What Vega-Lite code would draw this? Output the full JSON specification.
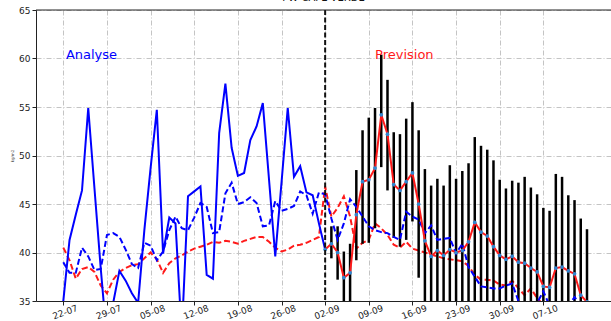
{
  "$schema": "https://vega.github.io/schema/vega-lite/v6.json",
  "autosize": {"type": "none"},
  "width": 575,
  "height": 291,
  "padding": {"left": 36, "top": 10, "right": 0, "bottom": 20},
  "background": "white",
  "title": {"text": "PW CAPE-VERDE", "fontSize": 10, "fontWeight": "normal", "font": "DejaVu Sans", "color": "#111", "offset": 3, "anchor": "middle"},
  "config": {
    "font": "DejaVu Sans",
    "view": {"stroke": null},
    "axis": {
      "labelFont": "DejaVu Sans", "labelFontSize": 9, "labelColor": "#222",
      "domainColor": "#222", "tickColor": "#222", "tickSize": 4, "labelPadding": 2,
      "grid": true, "gridColor": "#c4c4c4", "gridDash": [5, 2, 1, 2], "gridWidth": 1
    }
  },
  "datasets": {
    "analyse": [
      {"date": "2023-07-22", "pw": 35.0}, {"date": "2023-07-23", "pw": 41.3}, {"date": "2023-07-24", "pw": 43.9},
      {"date": "2023-07-25", "pw": 46.4}, {"date": "2023-07-26", "pw": 54.9}, {"date": "2023-07-27", "pw": 46.6},
      {"date": "2023-07-28", "pw": 38.4}, {"date": "2023-07-29", "pw": 31.0}, {"date": "2023-07-30", "pw": 34.8},
      {"date": "2023-07-31", "pw": 38.1}, {"date": "2023-08-01", "pw": 37.1}, {"date": "2023-08-02", "pw": 35.8},
      {"date": "2023-08-03", "pw": 34.8}, {"date": "2023-08-04", "pw": 42.3}, {"date": "2023-08-05", "pw": 48.7},
      {"date": "2023-08-06", "pw": 54.7}, {"date": "2023-08-07", "pw": 39.9}, {"date": "2023-08-08", "pw": 43.6},
      {"date": "2023-08-09", "pw": 43.0}, {"date": "2023-08-10", "pw": 31.5}, {"date": "2023-08-11", "pw": 45.8},
      {"date": "2023-08-12", "pw": 46.3}, {"date": "2023-08-13", "pw": 46.8}, {"date": "2023-08-14", "pw": 37.7},
      {"date": "2023-08-15", "pw": 37.3}, {"date": "2023-08-16", "pw": 52.3}, {"date": "2023-08-17", "pw": 57.4},
      {"date": "2023-08-18", "pw": 50.8}, {"date": "2023-08-19", "pw": 47.9}, {"date": "2023-08-20", "pw": 48.2},
      {"date": "2023-08-21", "pw": 51.6}, {"date": "2023-08-22", "pw": 53.0}, {"date": "2023-08-23", "pw": 55.4},
      {"date": "2023-08-24", "pw": 47.5}, {"date": "2023-08-25", "pw": 39.6}, {"date": "2023-08-26", "pw": 47.2},
      {"date": "2023-08-27", "pw": 54.9}, {"date": "2023-08-28", "pw": 47.8}, {"date": "2023-08-29", "pw": 48.9},
      {"date": "2023-08-30", "pw": 46.2}, {"date": "2023-08-31", "pw": 45.9}, {"date": "2023-09-01", "pw": 43.0},
      {"date": "2023-09-02", "pw": 40.3}
    ],
    "clim": [
      {"date": "2023-07-22", "blue": 39.0, "red": 40.5}, {"date": "2023-07-23", "blue": 37.9, "red": 39.2},
      {"date": "2023-07-24", "blue": 37.9, "red": 37.3}, {"date": "2023-07-25", "blue": 40.5, "red": 38.3},
      {"date": "2023-07-26", "blue": 39.6, "red": 38.5}, {"date": "2023-07-27", "blue": 38.2, "red": 38.0},
      {"date": "2023-07-28", "blue": 38.3, "red": 36.6}, {"date": "2023-07-29", "blue": 41.8, "red": 35.8},
      {"date": "2023-07-30", "blue": 42.0, "red": 37.2}, {"date": "2023-07-31", "blue": 41.6, "red": 38.0},
      {"date": "2023-08-01", "blue": 40.3, "red": 38.4}, {"date": "2023-08-02", "blue": 38.8, "red": 38.7},
      {"date": "2023-08-03", "blue": 38.4, "red": 38.8}, {"date": "2023-08-04", "blue": 41.0, "red": 39.4},
      {"date": "2023-08-05", "blue": 40.7, "red": 40.0}, {"date": "2023-08-06", "blue": 39.2, "red": 39.3},
      {"date": "2023-08-07", "blue": 40.1, "red": 37.9}, {"date": "2023-08-08", "blue": 42.3, "red": 38.9},
      {"date": "2023-08-09", "blue": 43.7, "red": 39.4}, {"date": "2023-08-10", "blue": 42.5, "red": 39.7},
      {"date": "2023-08-11", "blue": 42.3, "red": 40.1}, {"date": "2023-08-12", "blue": 43.6, "red": 40.4},
      {"date": "2023-08-13", "blue": 45.1, "red": 40.6}, {"date": "2023-08-14", "blue": 44.7, "red": 40.8},
      {"date": "2023-08-15", "blue": 42.0, "red": 41.1}, {"date": "2023-08-16", "blue": 42.1, "red": 41.0},
      {"date": "2023-08-17", "blue": 46.1, "red": 41.2}, {"date": "2023-08-18", "blue": 47.2, "red": 41.1},
      {"date": "2023-08-19", "blue": 45.0, "red": 40.9}, {"date": "2023-08-20", "blue": 45.2, "red": 41.2},
      {"date": "2023-08-21", "blue": 45.7, "red": 41.4}, {"date": "2023-08-22", "blue": 45.1, "red": 41.6},
      {"date": "2023-08-23", "blue": 42.7, "red": 41.6}, {"date": "2023-08-24", "blue": 42.8, "red": 41.1},
      {"date": "2023-08-25", "blue": 45.3, "red": 40.5}, {"date": "2023-08-26", "blue": 44.3, "red": 40.1},
      {"date": "2023-08-27", "blue": 44.5, "red": 40.3}, {"date": "2023-08-28", "blue": 44.8, "red": 40.7},
      {"date": "2023-08-29", "blue": 46.3, "red": 40.8}, {"date": "2023-08-30", "blue": 45.9, "red": 41.0},
      {"date": "2023-08-31", "blue": 44.0, "red": 41.3}, {"date": "2023-09-01", "blue": 46.2, "red": 41.6},
      {"date": "2023-09-02", "blue": 46.0, "red": 46.8}, {"date": "2023-09-03", "blue": 43.5, "red": 43.7},
      {"date": "2023-09-04", "blue": 41.3, "red": 44.6}, {"date": "2023-09-05", "blue": 43.0, "red": 45.8},
      {"date": "2023-09-06", "blue": 45.5, "red": 43.7}, {"date": "2023-09-07", "blue": 44.7, "red": 40.4},
      {"date": "2023-09-08", "blue": 43.7, "red": 41.0}, {"date": "2023-09-09", "blue": 42.7, "red": 41.3},
      {"date": "2023-09-10", "blue": 42.3, "red": 43.0}, {"date": "2023-09-11", "blue": 42.1, "red": 42.5},
      {"date": "2023-09-12", "blue": 42.0, "red": 41.8}, {"date": "2023-09-13", "blue": 41.6, "red": 40.8},
      {"date": "2023-09-14", "blue": 41.3, "red": 40.5}, {"date": "2023-09-15", "blue": 44.2, "red": 41.1},
      {"date": "2023-09-16", "blue": 43.7, "red": 40.4}, {"date": "2023-09-17", "blue": 43.4, "red": 40.2},
      {"date": "2023-09-18", "blue": 42.0, "red": 40.0}, {"date": "2023-09-19", "blue": 42.8, "red": 39.8},
      {"date": "2023-09-20", "blue": 41.3, "red": 39.6}, {"date": "2023-09-21", "blue": 41.4, "red": 39.4},
      {"date": "2023-09-22", "blue": 41.5, "red": 39.3}, {"date": "2023-09-23", "blue": 39.9, "red": 39.2},
      {"date": "2023-09-24", "blue": 40.9, "red": 39.1}, {"date": "2023-09-25", "blue": 38.5, "red": 38.6},
      {"date": "2023-09-26", "blue": 37.5, "red": 37.7}, {"date": "2023-09-27", "blue": 36.5, "red": 37.2},
      {"date": "2023-09-28", "blue": 36.4, "red": 37.2}, {"date": "2023-09-29", "blue": 36.3, "red": 37.1},
      {"date": "2023-09-30", "blue": 36.3, "red": 36.7}, {"date": "2023-10-01", "blue": 36.6, "red": 36.6},
      {"date": "2023-10-02", "blue": 36.8, "red": 37.1}, {"date": "2023-10-03", "blue": 35.0, "red": 36.3},
      {"date": "2023-10-04", "blue": 33.5, "red": 35.6}, {"date": "2023-10-05", "blue": 33.5, "red": 36.3},
      {"date": "2023-10-06", "blue": 34.8, "red": 35.3}, {"date": "2023-10-07", "blue": 36.0, "red": 34.6},
      {"date": "2023-10-08", "blue": 34.5, "red": 34.3}, {"date": "2023-10-09", "blue": 33.5, "red": 34.5},
      {"date": "2023-10-10", "blue": 33.5, "red": 34.8}, {"date": "2023-10-11", "blue": 34.5, "red": 34.6},
      {"date": "2023-10-12", "blue": 35.4, "red": 34.3}, {"date": "2023-10-13", "blue": 34.6, "red": 34.5},
      {"date": "2023-10-14", "blue": 34.0, "red": 34.2}
    ],
    "prevision": [
      {"date": "2023-09-02", "mean": 40.3},
      {"date": "2023-09-03", "mean": 40.9, "lo": 39.4, "hi": 42.7},
      {"date": "2023-09-04", "mean": 40.0, "lo": 37.2, "hi": 42.7},
      {"date": "2023-09-05", "mean": 37.4, "lo": 30.0, "hi": 40.1},
      {"date": "2023-09-06", "mean": 37.9, "lo": 30.0, "hi": 40.9},
      {"date": "2023-09-07", "mean": 43.9, "lo": 39.2, "hi": 48.5},
      {"date": "2023-09-08", "mean": 47.3, "lo": 40.9, "hi": 52.6},
      {"date": "2023-09-09", "mean": 47.5, "lo": 41.0, "hi": 53.9},
      {"date": "2023-09-10", "mean": 48.7, "lo": 42.5, "hi": 54.9},
      {"date": "2023-09-11", "mean": 54.2, "lo": 48.8, "hi": 60.4},
      {"date": "2023-09-12", "mean": 52.2, "lo": 46.4, "hi": 57.8},
      {"date": "2023-09-13", "mean": 47.0, "lo": 41.5, "hi": 52.4},
      {"date": "2023-09-14", "mean": 46.4, "lo": 40.6, "hi": 52.2},
      {"date": "2023-09-15", "mean": 47.3, "lo": 41.3, "hi": 53.8},
      {"date": "2023-09-16", "mean": 48.2, "lo": 43.2, "hi": 55.5},
      {"date": "2023-09-17", "mean": 45.0, "lo": 37.4, "hi": 52.6},
      {"date": "2023-09-18", "mean": 41.2, "lo": 30.0, "hi": 48.6},
      {"date": "2023-09-19", "mean": 39.6, "lo": 30.0, "hi": 46.9},
      {"date": "2023-09-20", "mean": 40.2, "lo": 30.0, "hi": 47.6},
      {"date": "2023-09-21", "mean": 39.7, "lo": 30.0, "hi": 46.9},
      {"date": "2023-09-22", "mean": 40.3, "lo": 30.0, "hi": 49.0},
      {"date": "2023-09-23", "mean": 40.0, "lo": 30.0, "hi": 47.6},
      {"date": "2023-09-24", "mean": 40.2, "lo": 30.0, "hi": 48.4},
      {"date": "2023-09-25", "mean": 41.1, "lo": 30.0, "hi": 49.2},
      {"date": "2023-09-26", "mean": 43.1, "lo": 30.0, "hi": 51.9},
      {"date": "2023-09-27", "mean": 42.1, "lo": 30.0, "hi": 51.0},
      {"date": "2023-09-28", "mean": 41.7, "lo": 30.0, "hi": 50.6},
      {"date": "2023-09-29", "mean": 40.6, "lo": 30.0, "hi": 49.5},
      {"date": "2023-09-30", "mean": 39.7, "lo": 30.0, "hi": 47.5},
      {"date": "2023-10-01", "mean": 39.3, "lo": 30.0, "hi": 46.6},
      {"date": "2023-10-02", "mean": 39.6, "lo": 30.0, "hi": 47.4},
      {"date": "2023-10-03", "mean": 39.0, "lo": 30.0, "hi": 47.2},
      {"date": "2023-10-04", "mean": 38.9, "lo": 30.0, "hi": 47.8},
      {"date": "2023-10-05", "mean": 38.4, "lo": 30.0, "hi": 46.7},
      {"date": "2023-10-06", "mean": 38.0, "lo": 30.0, "hi": 46.0},
      {"date": "2023-10-07", "mean": 36.5, "lo": 30.0, "hi": 44.6},
      {"date": "2023-10-08", "mean": 36.4, "lo": 30.0, "hi": 44.3},
      {"date": "2023-10-09", "mean": 38.4, "lo": 30.0, "hi": 48.1},
      {"date": "2023-10-10", "mean": 38.5, "lo": 30.0, "hi": 47.8},
      {"date": "2023-10-11", "mean": 38.1, "lo": 30.0, "hi": 45.9},
      {"date": "2023-10-12", "mean": 37.8, "lo": 30.0, "hi": 45.4},
      {"date": "2023-10-13", "mean": 35.6, "lo": 30.0, "hi": 43.5},
      {"date": "2023-10-14", "mean": 34.9, "lo": 30.0, "hi": 42.4}
    ]
  },
  "layer": [
    {
      "data": {"name": "clim"},
      "mark": {"type": "line", "color": "#ff1a1a", "strokeWidth": 2, "strokeDash": [6, 3], "clip": true},
      "encoding": {
        "x": {
          "field": "date", "type": "temporal", "title": null,
          "scale": {"type": "utc", "domain": [
            {"year": 2023, "month": 7, "date": 17, "hours": 14, "minutes": 54, "utc": true},
            {"year": 2023, "month": 10, "date": 17, "hours": 20, "minutes": 25, "utc": true}
          ]},
          "axis": {
            "format": "%d-%m", "labelAngle": -20, "labelAlign": "center", "labelBaseline": "top", "labelPadding": 3,
            "values": [
              {"year": 2023, "month": 7, "date": 22, "utc": true},
              {"year": 2023, "month": 7, "date": 29, "utc": true},
              {"year": 2023, "month": 8, "date": 5, "utc": true},
              {"year": 2023, "month": 8, "date": 12, "utc": true},
              {"year": 2023, "month": 8, "date": 19, "utc": true},
              {"year": 2023, "month": 8, "date": 26, "utc": true},
              {"year": 2023, "month": 9, "date": 2, "utc": true},
              {"year": 2023, "month": 9, "date": 9, "utc": true},
              {"year": 2023, "month": 9, "date": 16, "utc": true},
              {"year": 2023, "month": 9, "date": 23, "utc": true},
              {"year": 2023, "month": 9, "date": 30, "utc": true},
              {"year": 2023, "month": 10, "date": 7, "utc": true}
            ]
          }
        },
        "y": {
          "field": "red", "type": "quantitative",
          "scale": {"domain": [35, 65], "nice": false, "zero": false},
          "axis": {"values": [35, 40, 45, 50, 55, 60, 65], "title": "kg/m2", "titleFontSize": 4, "titleFontWeight": "normal", "titleColor": "#333", "titlePadding": 4}
        }
      }
    },
    {
      "data": {"name": "prevision"},
      "transform": [{"filter": "isValid(datum.hi)"}],
      "mark": {"type": "rule", "color": "#000", "strokeWidth": 2.5, "clip": true},
      "encoding": {
        "x": {"field": "date", "type": "temporal"},
        "y": {"field": "lo", "type": "quantitative"},
        "y2": {"field": "hi"}
      }
    },
    {
      "data": {"name": "clim"},
      "mark": {"type": "line", "color": "#0000ff", "strokeWidth": 2, "strokeDash": [6, 3], "clip": true},
      "encoding": {
        "x": {"field": "date", "type": "temporal"},
        "y": {"field": "blue", "type": "quantitative"}
      }
    },
    {
      "data": {"name": "analyse"},
      "mark": {"type": "line", "color": "#0000ff", "strokeWidth": 2, "clip": true},
      "encoding": {
        "x": {"field": "date", "type": "temporal"},
        "y": {"field": "pw", "type": "quantitative"}
      }
    },
    {
      "data": {"name": "prevision"},
      "mark": {"type": "line", "color": "#ff1a1a", "strokeWidth": 2, "clip": true},
      "encoding": {
        "x": {"field": "date", "type": "temporal"},
        "y": {"field": "mean", "type": "quantitative"}
      }
    },
    {
      "data": {"name": "prevision"},
      "mark": {"type": "circle", "color": "#2f86d0", "size": 14, "opacity": 1, "clip": true},
      "encoding": {
        "x": {"field": "date", "type": "temporal"},
        "y": {"field": "mean", "type": "quantitative"}
      }
    },
    {
      "data": {"values": [{}]},
      "mark": {"type": "rule", "color": "#111", "strokeWidth": 2, "strokeDash": [5, 2.5]},
      "encoding": {"x": {"datum": {"year": 2023, "month": 9, "date": 2, "utc": true}, "type": "temporal"}}
    },
    {
      "data": {"values": [{}]},
      "mark": {"type": "rule", "color": "#222", "strokeWidth": 1},
      "encoding": {"y": {"datum": 65, "type": "quantitative"}}
    },
    {
      "data": {"values": [{}]},
      "mark": {"type": "text", "text": "Analyse", "color": "#0000ff", "fontSize": 13, "font": "DejaVu Sans", "align": "left", "baseline": "alphabetic"},
      "encoding": {
        "x": {"datum": {"year": 2023, "month": 7, "date": 22, "hours": 10, "utc": true}, "type": "temporal"},
        "y": {"datum": 60, "type": "quantitative"}
      }
    },
    {
      "data": {"values": [{}]},
      "mark": {"type": "text", "text": "Prevision", "color": "#ff1a1a", "fontSize": 13, "font": "DejaVu Sans", "align": "left", "baseline": "alphabetic"},
      "encoding": {
        "x": {"datum": {"year": 2023, "month": 9, "date": 10, "utc": true}, "type": "temporal"},
        "y": {"datum": 60, "type": "quantitative"}
      }
    }
  ]
}
